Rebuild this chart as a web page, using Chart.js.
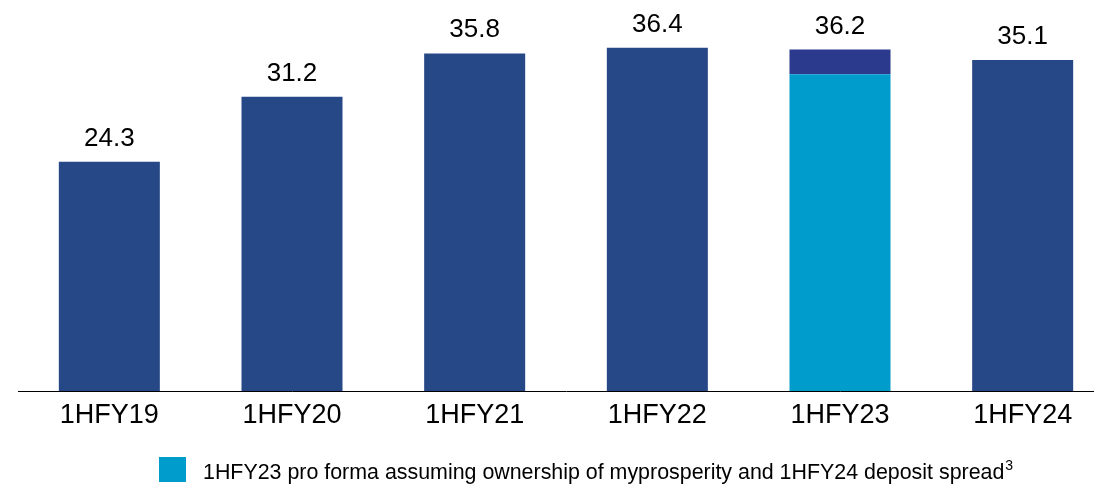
<!DOCTYPE html>
<html>
<head>
<meta charset="utf-8">
<script src="https://cdn.jsdelivr.net/npm/chart.js@4/dist/chart.umd.min.js"></script>
<style>
    body { margin: 0; background: #fff; overflow: hidden; }
    #wrap { position: relative; width: 1114px; height: 484px; }
</style>
</head>
<body>
<div id="wrap"><canvas id="chart"></canvas></div>
<script>
// Datos
const categories = ['1HFY19', '1HFY20', '1HFY21', '1HFY22', '1HFY23', '1HFY24'];
const reportedValues = [24.3, 31.2, 35.8, 36.4, null, 35.1];
const proFormaValues = [null, null, null, null, 33.6, null];
const proFormaRemainder = [null, null, null, null, 2.6, null];
const totalLabels = ['24.3', '31.2', '35.8', '36.4', '36.2', '35.1'];
const legendText = '1HFY23 pro forma assuming ownership of myprosperity and 1HFY24 deposit spread';
const legendSup = '3';

const FONT = 'Arial, "Liberation Sans", sans-serif';

// Etiquetas encima de cada barra
const totalLabelsPlugin = {
    id: 'totalLabels',
    afterDatasetsDraw(chart) {
        const ctx = chart.ctx;
        const y = chart.scales.y;
        ctx.save();
        ctx.font = `26px ${FONT}`;
        ctx.fillStyle = '#000';
        ctx.textAlign = 'center';
        ctx.textBaseline = 'alphabetic';
        chart.getDatasetMeta(0).data.forEach((bar, i) => {
            const top = y.getPixelForValue(parseFloat(totalLabels[i]));
            ctx.fillText(totalLabels[i], bar.x, top - 16);
        });
        ctx.restore();
    }
};

// Leyenda dibujada a mano
const legendPlugin = {
    id: 'customLegend',
    afterDraw(chart) {
        const ctx = chart.ctx;
        ctx.save();
        ctx.fillStyle = '#009CCC';
        ctx.fillRect(159, 457, 27, 25);
        ctx.fillStyle = '#000';
        ctx.font = `21.4px ${FONT}`;
        ctx.textBaseline = 'alphabetic';
        ctx.fillText(legendText, 203, 479);
        const w = ctx.measureText(legendText).width;
        ctx.font = `14px ${FONT}`;
        ctx.fillText(legendSup, 203 + w + 1, 470);
        ctx.restore();
    }
};

const ctx = document.getElementById('chart').getContext('2d');

new Chart(ctx, {
    type: 'bar',
    data: {
        labels: categories,
        datasets: [
            {
                label: 'Reported',
                data: reportedValues,
                backgroundColor: '#264887'
            },
            {
                label: legendText,
                data: proFormaValues,
                backgroundColor: '#009CCC'
            },
            {
                label: 'Remainder',
                data: proFormaRemainder,
                backgroundColor: '#2B3A8C'
            }
        ]
    },
    options: {
        responsive: true,
        maintainAspectRatio: false,
        animation: false,
        datasets: {
            bar: {
                barPercentage: 0.553,
                categoryPercentage: 1,
                borderWidth: 0
            }
        },
        layout: {
            padding: { left: 18, right: 0, top: 0, bottom: 0 }
        },
        plugins: {
            legend: { display: false },
            tooltip: { enabled: false }
        },
        scales: {
            x: {
                stacked: true,
                grid: { display: false, drawTicks: false },
                border: { display: true, color: '#000', width: 1 },
                ticks: {
                    color: '#000',
                    padding: 8,
                    font: { family: FONT, size: 27 },
                    maxRotation: 0,
                    autoSkip: false
                },
                afterFit(scale) {
                    scale.height = 93;
                }
            },
            y: {
                stacked: true,
                display: false,
                min: 0,
                max: 41.46
            }
        }
    },
    plugins: [totalLabelsPlugin, legendPlugin]
});
</script>
</body>
</html>
